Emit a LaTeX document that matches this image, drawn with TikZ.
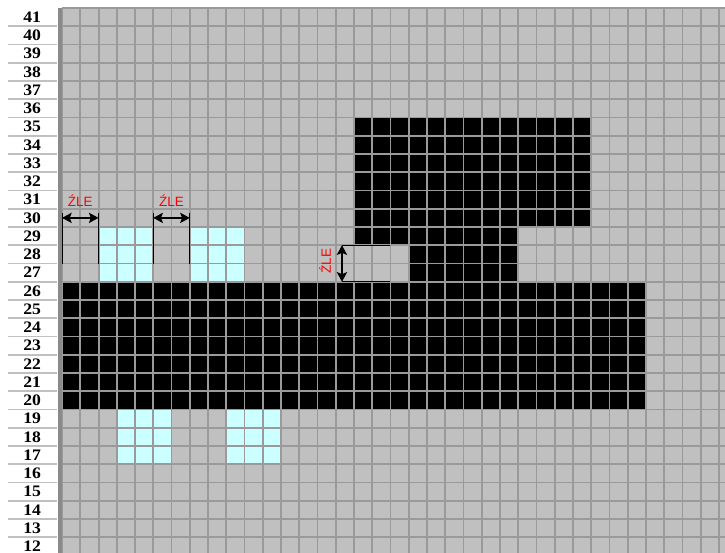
\documentclass[tikz,border=0pt]{standalone}
\usepackage{fontspec}
\setmainfont{Liberation Serif}
\setsansfont{Liberation Sans}
\usetikzlibrary{arrows.meta}

\definecolor{cellgray}{HTML}{C0C0C0}
\definecolor{linegray}{HTML}{9A9A9A}
\definecolor{bordergray}{HTML}{8A8A8A}
\definecolor{paleblue}{HTML}{CCFFFF}

\tikzset{
  rowlabel/.style={font=\fontsize{12.5}{12}\selectfont\bfseries, xscale=1.1, inner sep=0pt},
  badlabel/.style={text=red, font=\sffamily\fontsize{10.5}{10}\selectfont, inner sep=0pt},
  dimline/.style={black, line width=0.8pt},
  dimarrow/.style={<->, black, line width=1.3pt}
}

\begin{document}
\begin{tikzpicture}[x=0.5cm, y=0.5cm, >={Stealth[length=7.5pt, width=8pt, inset=1.5pt]}]
    \useasboundingbox (-3.40,12.14) rectangle (36.33,42.44);
    \clip (-3.40,12.14) rectangle (36.33,42.44);

    % Sheet background
    \fill[white] (-3.40,12.14) rectangle (36.33,42.44);
    \fill[cellgray] (0,12) rectangle (36.5,42);

    % Black shape
    \fill[black] (0,20) rectangle (32,27);
    \fill[black] (16,30) rectangle (29,36);
    \fill[black] (16,29) rectangle (25,30);
    \fill[black] (19,27) rectangle (25,29);

    % Pale blue blocks
    \foreach \x/\y in {2/27, 7/27, 3/17, 9/17} {
        \fill[paleblue] (\x,\y) rectangle (\x+3,\y+3);
    }

    % Grid
    \draw[linegray, line width=1.5pt, step=1] (0,12) grid (36.5,42);

    % Row numbers
    \draw[bordergray, line width=3pt] (-0.11,12) -- (-0.11,42);
    \foreach \r in {13,...,41} {
        \draw[cellgray, line width=1.4pt] (-2.96,\r) -- (-0.25,\r);
    }
    \foreach \r in {12,...,41} {
        \node[rowlabel] (row\r) at (-1.64,\r+0.5) {\r};
    }

    % Horizontal marks
    \foreach \a/\b/\n in {0/2/one, 5/7/two} {
        \coordinate (\n A) at (\a,28);
        \coordinate (\n B) at (\b,28);
        \coordinate (\n L) at (\a,30.5);
        \coordinate (\n R) at (\b,30.5);
        \draw[dimline] (\n A) -- ++(0,2.75);
        \draw[dimline] (\n B) -- ++(0,2.75);
        \draw[dimarrow] (\n L) -- (\n R);
        \node[badlabel] (\n label) at ({(\a+\b)/2},31.42) {ŹLE};
    }

    % Vertical mark
    \coordinate (notchT) at (15.34,29);
    \coordinate (notchB) at (15.34,27);
    \draw[dimline] (notchT) -- ++(2.62,0);
    \draw[dimline] (notchB) -- ++(2.62,0);
    \draw[dimarrow] (notchT) -- (notchB);
    \node[badlabel, rotate=90] (notchlabel) at (14.41,28.12) {ŹLE};
\end{tikzpicture}
\end{document}
